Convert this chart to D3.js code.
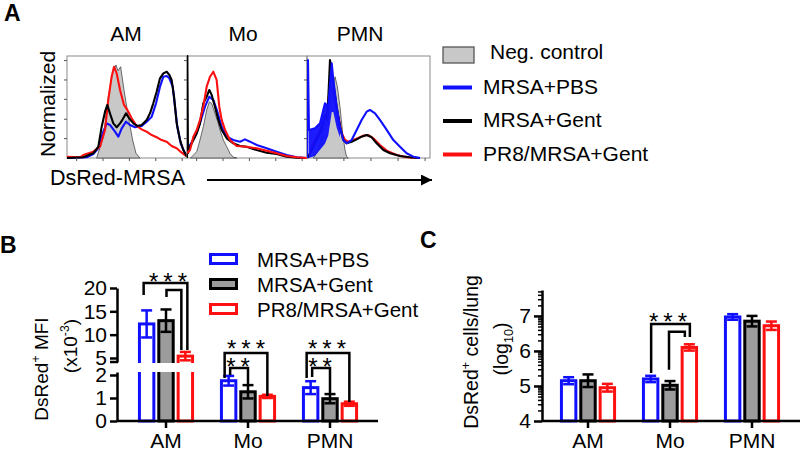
<!DOCTYPE html>
<html><head><meta charset="utf-8">
<script src="https://cdn.jsdelivr.net/npm/d3@7"></script>
<style>
body{margin:0;background:#fff}
svg{display:block}
text{font-family:"Liberation Sans",Arial,Helvetica,sans-serif;fill:#000}
</style>
</head><body>
<svg id="c" width="800" height="456"></svg>
<script>
// ---------------- DATA ----------------
const cellTypes = ["AM", "Mo", "PMN"];
const groups = ["MRSA+PBS", "MRSA+Gent", "PR8/MRSA+Gent"];
const histLegend = ["Neg. control", "MRSA+PBS", "MRSA+Gent", "PR8/MRSA+Gent"];

// Panel A histograms: [fluorescence position % of panel width, normalized count %]
const amNeg = [[24.7,0],[30.3,20.9],[34.4,60.1],[38.1,84.6],[40.8,91.2],[42.5,85.6],[44.7,89.5],[47.5,66.7],[51.1,40.5],[54.7,17.6],[57.5,4.6],[60.8,0]];
const amPR8 = [[0,1.3],[10.8,0.7],[13.6,2.9],[21.9,6.2],[27.5,11.1],[31.7,27.5],[34.4,56.9],[37.2,79.7],[39.2,89.5],[41.4,83],[44.2,66.7],[47.5,52],[50.3,47.1],[53.9,38.9],[58.1,31.4],[62.2,28.1],[66.4,25.8],[70.6,22.5],[74.7,20.3],[78.9,17.6],[83.1,16],[87.2,11.8],[91.4,9.5],[95.6,5.2],[100,1.3]];
const amGent = [[0,0],[13.6,0.7],[21.9,4.6],[26.1,11.1],[28.9,30.7],[31.7,45.4],[33.6,52],[35.8,43.8],[38.6,34],[41.4,30.1],[44.2,34],[46.4,37.9],[49.2,43.8],[51.9,38.9],[55.3,34],[58.6,31.4],[62.2,32.4],[66.4,37.3],[69.2,43.8],[71.9,53.6],[74.7,65],[77.5,78.1],[80.3,83],[83.1,84.6],[85.3,81.4],[87.2,76.5],[89.2,60.1],[91.4,34],[94.2,17.6],[96.9,7.8],[100,1.3]];
const amPBS = [[0,0],[16.4,0.7],[21.9,3.9],[26.1,9.5],[29.7,24.2],[33.1,34],[35.8,32.4],[40,25.8],[42.8,20.9],[45.6,29.1],[49.2,35.6],[52.5,32.4],[56.7,30.1],[62.2,31.4],[66.4,35.6],[70.6,40.5],[74.2,53.6],[77.5,69.9],[80.3,79.7],[83.1,80.4],[85.3,78.1],[88.1,69.9],[90,50.3],[91.9,30.7],[94.7,14.4],[98.3,4.6],[100,1.3]];

const moNeg = [[3,0],[8.1,6.2],[10.8,17.6],[13.6,30.7],[16.4,47.1],[18.6,55],[20.5,53.6],[23,45],[25.5,36],[27.5,27.5],[30.3,17.6],[33.1,11.1],[35.8,4.6],[38.6,0.7],[41.4,0]];
const moPR8 = [[0,4.6],[2.5,7.8],[5.3,20.9],[8.1,27.5],[10.8,37.3],[13.6,50.3],[16.4,69.9],[19.2,79.7],[21.9,84.6],[24.7,76.5],[26.9,50.3],[28.9,37.3],[31.7,27.5],[35.8,17.6],[41.4,11.8],[49.7,11.1],[58.1,9.5],[66.4,7.2],[74.7,4.6],[83.1,2],[91.4,0.7],[100,0]];
const moGent = [[0,0],[0.3,100],[0.8,4.6],[2.5,11.1],[5.3,17.6],[8.1,24.2],[10.8,34],[13.6,53.6],[16.4,60.1],[18.6,66.7],[20.6,61.8],[23.3,50.3],[26.1,37.3],[28.9,27.5],[33.1,19.3],[38.6,14.4],[44.2,11.8],[49.7,11.1],[58.1,7.8],[66.4,5.2],[74.7,3.9],[83.1,1.3],[91.4,0.3],[100,0]];
const moPBS = [[0,7.8],[2.5,12.7],[6.7,20.9],[10.8,34],[15,50.3],[18.6,60.1],[21.9,56.9],[25.3,45.4],[28.9,30.7],[33.1,20.9],[38.6,17.6],[44.2,16],[48.3,18.3],[52.5,16],[58.1,12.7],[66.4,9.5],[74.7,6.2],[83.1,2.9],[91.4,0.7],[100,0]];

const pmnNeg = [[5.1,0],[9.2,7.8],[11.9,20.9],[14.6,30.7],[17.3,43.8],[20.1,63.4],[22.8,79.7],[24.7,69.9],[26.8,50.3],[29,24.2],[30.9,7.8],[32.2,1.3],[33.6,0]];
const pmnPR8 = [[2.4,7.8],[10.6,27.5],[16,43.8],[18.7,69.9],[20.6,66.7],[22.8,56.9],[25.5,40.5],[28.2,24.2],[30.9,17.6],[33.6,16],[37.7,17.6],[41.7,19.6],[45.8,21.9],[49.9,22.5],[53.9,19.3],[59.3,12.7],[64.8,7.2],[72.9,2.9],[81,0.7],[89.2,0]];
const pmnGent = [[0.3,0],[2.4,4.6],[7.9,17.6],[11.9,27.5],[14.6,42.2],[16.5,37.3],[18.7,96.1],[20.1,83],[21.4,73.2],[24.1,50.3],[26.8,30.7],[29.5,17.6],[32.2,14.4],[36.3,16],[40.4,18.3],[44.4,20.9],[48.5,22.5],[52.6,20.3],[56.6,14.4],[62.1,7.8],[67.5,4.6],[75.6,2],[83.7,0.7],[91.9,0]];
const pmnPBS = [[0.3,0],[0.8,96],[1.6,27.5],[6.5,29.1],[10.6,34],[14.6,53.6],[17.3,50.3],[20.1,92.8],[21.4,76.5],[24.1,50.3],[26.8,30.7],[29.5,17.6],[32.2,14.4],[36.3,17.6],[40.4,27.5],[44.4,37.3],[48.5,45.4],[51.2,47.1],[55.3,43.8],[59.3,37.3],[64.8,27.5],[70.2,17.6],[75.6,11.1],[81,4.6],[86.4,1.3],[91.9,0]];
// jagged (filled-looking) low-fluorescence region of the PMN MRSA+PBS trace: [x, low, high]
const pmnPBSBand = [[1.6,0,27.5],[6.5,2,29.1],[10.6,8,34],[14.6,14,53.6],[17.3,22,50.3],[20.1,45,92.8],[21.4,45,76.5],[24.1,30,50.3],[26.8,20,30.7]];
const histYTicks = [19, 38, 57.5, 76.5, 95.5];
const histXTicks = [8, 30, 52, 74, 96];

// Panel B: DsRed+ MFI (x10^-3), mean and SEM per cell type
const mfiPBS = [12.3, 1.75, 1.45], mfiPBSErr = [2.9, 0.21, 0.28];
const mfiGent = [13.0, 1.27, 0.97], mfiGentErr = [2.4, 0.29, 0.2];
const mfiPR8 = [5.4, 1.07, 0.75], mfiPR8Err = [0.9, 0.07, 0.09];
const mfiUpperTicks = [5, 10, 15, 20];
const mfiLowerTicks = [0, 1, 2];
// significance brackets: category, bar a, bar b, bracket level, leg ends, segment
const sigB = [
  {cat:0, a:0, b:2, top:21.07, endA:18.5, endB:6.71, seg:"u"},
  {cat:0, a:1, b:2, top:19.57, endA:18.07, endB:6.71, seg:"u"},
  {cat:1, a:0, b:2, top:2.96, endA:1.87, endB:1.09, seg:"l"},
  {cat:1, a:0, b:1, top:2.30, endA:2.0, endB:1.57, seg:"l"},
  {cat:2, a:0, b:2, top:2.96, endA:1.87, endB:0.83, seg:"l"},
  {cat:2, a:0, b:1, top:2.30, endA:1.91, endB:1.22, seg:"l"}
];
const sigBText = [
  {cat:0, text:"***", v:22.4, seg:"u"},
  {cat:1, text:"***", v:3.37, seg:"l"},
  {cat:1, text:"**", v:2.58, seg:"l"},
  {cat:2, text:"***", v:3.37, seg:"l"},
  {cat:2, text:"**", v:2.58, seg:"l"}
];

// Panel C: DsRed+ cells/lung (log10)
const cellsPBS = [5.15, 5.2, 6.97], cellsPBSErr = [0.1, 0.09, 0.08];
const cellsGent = [5.15, 5.02, 6.85], cellsGentErr = [0.18, 0.12, 0.15];
const cellsPR8 = [4.95, 6.1, 6.72], cellsPR8Err = [0.11, 0.09, 0.12];
const cellsTicks = [4, 5, 6, 7];
const sigC = [
  {cat:1, a:0, b:2, top:6.77, endA:5.37, endB:6.4},
  {cat:1, a:1, b:2, top:6.55, endA:5.46, endB:6.4}
];
const sigCText = [{cat:1, text:"***", v:6.98}];

// ---------------- DRAWING ----------------
const svg = d3.select("#c");
const BLUE = "#1010ff", RED = "#ff1010", GRAYFILL = "#9c9c9c", NEGFILL = "#c8c8c8";
const seriesColor = [BLUE, "#000", RED];
const seriesFill = ["#fff", GRAYFILL, "#fff"];
const fmt = d3.format("d");

function rotText(g, x, y, size, parts) {
  const t = g.append("text").attr("font-size", size).attr("text-anchor", "start");
  parts.forEach(p => {
    const s = t.append("tspan").text(p.t);
    if (p.sup) s.attr("font-size", size * 0.65).attr("dy", -size * 0.38);
    if (p.sub) s.attr("font-size", size * 0.65).attr("dy", size * 0.25);
    if (p.back) s.attr("dy", p.back);
  });
  const w = t.node().getComputedTextLength();
  t.attr("x", -w / 2).attr("y", size * 0.35)
    .attr("transform", `translate(${x},${y}) rotate(-90)`);
  return t;
}

// ===== Panel A =====
svg.append("text").attr("x", 4).attr("y", 21).attr("font-size", 23).attr("font-weight", "bold").text("A");
const hy = d3.scaleLinear().domain([0, 100]).range([158, 56]);
const panels = [
  {name:"AM", x0:67, x1:187, lx:126, neg:amNeg, lines:[[amPBS,BLUE],[amPR8,RED],[amGent,"#000"]]},
  {name:"Mo", x0:187, x1:307, lx:243, neg:moNeg, lines:[[moPBS,BLUE],[moGent,"#000"],[moPR8,RED]]},
  {name:"PMN", x0:307, x1:430, lx:360, neg:pmnNeg, lines:[[pmnPR8,RED],[pmnGent,"#000"],[pmnPBS,BLUE]], band:pmnPBSBand}
];
const defs = svg.append("defs");
panels.forEach((p, i) => {
  const hx = d3.scaleLinear().domain([0, 100]).range([p.x0, p.x1]);
  const g = svg.append("g");
  g.append("text").attr("x", p.lx).attr("y", 41)
    .attr("text-anchor", "middle").attr("font-size", 21).text(p.name);
  g.append("rect").attr("x", p.x0).attr("y", 56).attr("width", p.x1 - p.x0).attr("height", 102)
    .attr("fill", "none").attr("stroke", "#8a8a8a").attr("stroke-width", 1);
  defs.append("clipPath").attr("id", "cp" + i).append("rect")
    .attr("x", p.x0).attr("y", 50).attr("width", p.x1 - p.x0 + 1).attr("height", 109);
  const cg = g.append("g").attr("clip-path", `url(#cp${i})`);
  cg.append("path").datum(p.neg)
    .attr("d", d3.area().x(d => hx(d[0])).y0(hy(0)).y1(d => hy(d[1])))
    .attr("fill", NEGFILL).attr("stroke", "#333").attr("stroke-width", 0.7);
  const line = d3.line().x(d => hx(d[0])).y(d => hy(d[1]));
  p.lines.forEach(([data, col]) => {
    if (p.band && col === BLUE) {
      cg.append("path").datum(p.band)
        .attr("d", d3.area().x(d => hx(d[0])).y0(d => hy(d[1])).y1(d => hy(d[2])))
        .attr("fill", BLUE).attr("opacity", 0.95);
    }
    cg.append("path").datum(data).attr("d", line).attr("fill", "none")
      .attr("stroke", col).attr("stroke-width", 2.1).attr("stroke-linejoin", "round");
  });
  g.selectAll(".yt").data(histYTicks).enter().append("line")
    .attr("x1", p.x0 - 3).attr("x2", p.x0).attr("y1", d => hy(d)).attr("y2", d => hy(d))
    .attr("stroke", "#555").attr("stroke-width", 1);
  g.selectAll(".xt").data(histXTicks).enter().append("line")
    .attr("x1", d => hx(d)).attr("x2", d => hx(d)).attr("y1", 158).attr("y2", 161)
    .attr("stroke", "#555").attr("stroke-width", 1);
});
rotText(svg, 48, 104, 21, [{t:"Normalized"}]);
svg.append("text").attr("x", 50).attr("y", 185).attr("font-size", 21.5).text("DsRed-MRSA");
defs.append("marker").attr("id", "arr").attr("viewBox", "0 0 10 10").attr("refX", 10).attr("refY", 5)
  .attr("markerWidth", 11).attr("markerHeight", 11).attr("markerUnits", "userSpaceOnUse").attr("orient", "auto")
  .append("path").attr("d", "M0,0L10,5L0,10Z").attr("fill", "#000");
svg.append("line").attr("x1", 207).attr("x2", 432).attr("y1", 180).attr("y2", 180)
  .attr("stroke", "#000").attr("stroke-width", 1.8).attr("marker-end", "url(#arr)");

const lgA = svg.append("g");
histLegend.forEach((name, i) => {
  const cy = 55 + i * 33.5;
  if (i === 0) {
    lgA.append("rect").attr("x", 443).attr("y", cy - 8).attr("width", 31).attr("height", 16)
      .attr("fill", NEGFILL).attr("stroke", "#555").attr("stroke-width", 1.3);
  } else {
    lgA.append("line").attr("x1", 443).attr("x2", 472).attr("y1", cy - 1).attr("y2", cy - 1)
      .attr("stroke", [BLUE, "#000", RED][i - 1]).attr("stroke-width", 4);
  }
  lgA.append("text").attr("x", i === 0 ? 490 : 483).attr("y", cy + 5 + (i === 0 ? -1 : 0))
    .attr("font-size", 21).text(name);
});

// ===== Panel B =====
svg.append("text").attr("x", 0).attr("y", 253).attr("font-size", 23).attr("font-weight", "bold").text("B");
const bAxisX = 117, base = 421;
const yUpper = d3.scaleLinear().domain([4.14, 20]).range([362, 288]);
const yLower = d3.scaleLinear().domain([0, 2.13]).range([base, 372]);
const yB = v => v > 2.13 ? yUpper(v) : yLower(v);
const xCatB = d3.scaleBand().domain(cellTypes).range([125, 371]);
const xGrp = d3.scaleBand().domain(groups).range([-30, 30]).padding(0.1);
const mfiVals = [mfiPBS, mfiGent, mfiPR8], mfiErrs = [mfiPBSErr, mfiGentErr, mfiPR8Err];
const barX = (xc, c, gi) => xc(c) + xc.bandwidth() / 2 + xGrp(groups[gi]);
const barCX = (xc, c, gi) => barX(xc, c, gi) + xGrp.bandwidth() / 2;
const gB = svg.append("g");
groups.forEach((grp, gi) => {
  cellTypes.forEach((c, ci) => {
    const v = mfiVals[gi][ci];
    gB.append("rect").attr("x", barX(xCatB, c, gi) + 1.5).attr("width", xGrp.bandwidth() - 3)
      .attr("y", yB(v)).attr("height", base - yB(v))
      .attr("fill", seriesFill[gi]).attr("stroke", seriesColor[gi]).attr("stroke-width", 3);
  });
});
gB.append("rect").attr("x", 125).attr("y", 363).attr("width", 80).attr("height", 9).attr("fill", "#fff");
groups.forEach((grp, gi) => {
  cellTypes.forEach((c, ci) => {
    const v = mfiVals[gi][ci], e = mfiErrs[gi][ci], cx = barCX(xCatB, c, gi);
    const g = gB.append("g").attr("stroke", seriesColor[gi]).attr("stroke-width", 2.5);
    g.append("line").attr("x1", cx).attr("x2", cx).attr("y1", yB(v - e)).attr("y2", yB(v + e));
    [v - e, v + e].forEach(w => g.append("line").attr("x1", cx - 5.5).attr("x2", cx + 5.5).attr("y1", yB(w)).attr("y2", yB(w)));
  });
});
function styleAxis(sel) {
  sel.selectAll("path.domain").attr("stroke", "#000").attr("stroke-width", 2.5);
  sel.selectAll(".tick line").attr("stroke", "#000").attr("stroke-width", 2.5);
  sel.selectAll(".tick text").attr("font-size", 21).attr("font-family", '"Liberation Sans",Arial,sans-serif').attr("fill", "#000");
}
svg.append("g").attr("transform", `translate(${bAxisX},0)`)
  .call(d3.axisLeft(yUpper).tickValues(mfiUpperTicks).tickFormat(fmt).tickSize(7).tickSizeOuter(0).tickPadding(3)).call(styleAxis);
svg.append("g").attr("transform", `translate(${bAxisX},0)`)
  .call(d3.axisLeft(yLower).tickValues(mfiLowerTicks).tickFormat(fmt).tickSize(7).tickSizeOuter(0).tickPadding(3)).call(styleAxis);
svg.append("line").attr("x1", bAxisX - 7).attr("x2", bAxisX + 1).attr("y1", 362).attr("y2", 362).attr("stroke", "#000").attr("stroke-width", 2.5);
const xAxB = svg.append("g").attr("transform", `translate(0,${base})`)
  .call(d3.axisBottom(xCatB).tickSize(7).tickSizeOuter(0).tickPadding(5)).call(styleAxis);
xAxB.select("path.domain").attr("d", `M${bAxisX},0H378`);

function sigDraw(g, specs, xc, yf) {
  specs.forEach(s => {
    const ys = s.seg === "u" ? yUpper : (s.seg === "l" ? yLower : yf);
    const xa = barCX(xc, cellTypes[s.cat], s.a) + s.offs[0], xb = barCX(xc, cellTypes[s.cat], s.b) + s.offs[1];
    g.append("path").attr("d", `M${xa},${ys(s.endA)}V${ys(s.top)}H${xb}V${ys(s.endB)}`)
      .attr("fill", "none").attr("stroke", "#000").attr("stroke-width", 2.5);
  });
}
function starDraw(g, specs, xc, yf, dxs) {
  specs.forEach((s, i) => {
    const ys = s.seg === "u" ? yUpper : (s.seg === "l" ? yLower : yf);
    g.append("text").attr("x", xc(cellTypes[s.cat]) + xc.bandwidth() / 2 + dxs[i] + 2.5)
      .attr("y", ys(s.v) + 13.5).attr("text-anchor", "middle").attr("font-size", 24)
      .attr("letter-spacing", 5).text(s.text);
  });
}
const offsB = [[-3, 2], [0.5, -4], [-4, 0], [1.5, 0], [-4, 0], [1.5, 0]];
sigDraw(svg.append("g"), sigB.map((s, i) => Object.assign({}, s, {offs: offsB[i]})), xCatB);
starDraw(svg.append("g"), sigBText, xCatB, null, [2, -2, -10, -3, -10]);

rotText(svg, 41, 369, 19, [{t:"DsRed"}, {t:"+", sup:true}, {t:" MFI", back:19 * 0.38}]);
rotText(svg, 70, 346, 19, [{t:"(x10"}, {t:"-3", sup:true}, {t:")", back:19 * 0.38}]);

const lgB = svg.append("g");
groups.forEach((name, i) => {
  const cy = 259 + i * 25;
  lgB.append("rect").attr("x", 210.5).attr("y", cy - 4.5).attr("width", 26).attr("height", 9)
    .attr("fill", seriesFill[i]).attr("stroke", seriesColor[i]).attr("stroke-width", 3);
  lgB.append("text").attr("x", 257).attr("y", cy + 7.5).attr("font-size", 20.5).text(name);
});

// ===== Panel C =====
svg.append("text").attr("x", 420).attr("y", 248).attr("font-size", 23).attr("font-weight", "bold").text("C");
const cAxisX = 542;
const yC = d3.scaleLinear().domain([4, 7.74]).range([base, 290]);
const xCatC = d3.scaleBand().domain(cellTypes).range([547, 793]);
const cellVals = [cellsPBS, cellsGent, cellsPR8], cellErrs = [cellsPBSErr, cellsGentErr, cellsPR8Err];
const gC = svg.append("g");
groups.forEach((grp, gi) => {
  cellTypes.forEach((c, ci) => {
    const v = cellVals[gi][ci];
    gC.append("rect").attr("x", barX(xCatC, c, gi) + 1.5).attr("width", xGrp.bandwidth() - 3)
      .attr("y", yC(v)).attr("height", base - yC(v))
      .attr("fill", seriesFill[gi]).attr("stroke", seriesColor[gi]).attr("stroke-width", 3);
  });
});
groups.forEach((grp, gi) => {
  cellTypes.forEach((c, ci) => {
    const v = cellVals[gi][ci], e = cellErrs[gi][ci], cx = barCX(xCatC, c, gi);
    const g = gC.append("g").attr("stroke", seriesColor[gi]).attr("stroke-width", 2.5);
    g.append("line").attr("x1", cx).attr("x2", cx).attr("y1", yC(v - e)).attr("y2", yC(v + e));
    [v - e, v + e].forEach(w => g.append("line").attr("x1", cx - 5.5).attr("x2", cx + 5.5).attr("y1", yC(w)).attr("y2", yC(w)));
  });
});
svg.append("g").attr("transform", `translate(${cAxisX},0)`)
  .call(d3.axisLeft(yC).tickValues(cellsTicks).tickFormat(fmt).tickSize(8).tickSizeOuter(0).tickPadding(3)).call(styleAxis);
const minorC = [];
[4, 5, 6, 7].forEach(d => [2,3,4,5,6,7,8,9].forEach(k => { const v = d + Math.log10(k); if (v <= 7.74) minorC.push(v); }));
svg.append("g").attr("transform", `translate(${cAxisX},0)`)
  .call(d3.axisLeft(yC).tickValues(minorC).tickSize(4).tickSizeOuter(0).tickFormat(""))
  .call(s => { s.select("path.domain").remove(); s.selectAll(".tick line").attr("stroke", "#000").attr("stroke-width", 1.5); });
const xAxC = svg.append("g").attr("transform", `translate(0,${base})`)
  .call(d3.axisBottom(xCatC).tickSize(7).tickSizeOuter(0).tickPadding(5)).call(styleAxis);
xAxC.select("path.domain").attr("d", `M${cAxisX},0H800`);
const offsC = [[0.5, 0.5], [-1, -4.5]];
sigDraw(svg.append("g"), sigC.map((s, i) => Object.assign({}, s, {offs: offsC[i]})), xCatC, yC);
starDraw(svg.append("g"), sigCText, xCatC, yC, [-2]);

rotText(svg, 471, 352, 19.5, [{t:"DsRed"}, {t:"+", sup:true}, {t:" cells/lung", back:19.5 * 0.38}]);
rotText(svg, 501, 349, 19.5, [{t:"(log"}, {t:"10", sub:true}, {t:")", back:-19.5 * 0.25}]);
</script>
</body></html>
